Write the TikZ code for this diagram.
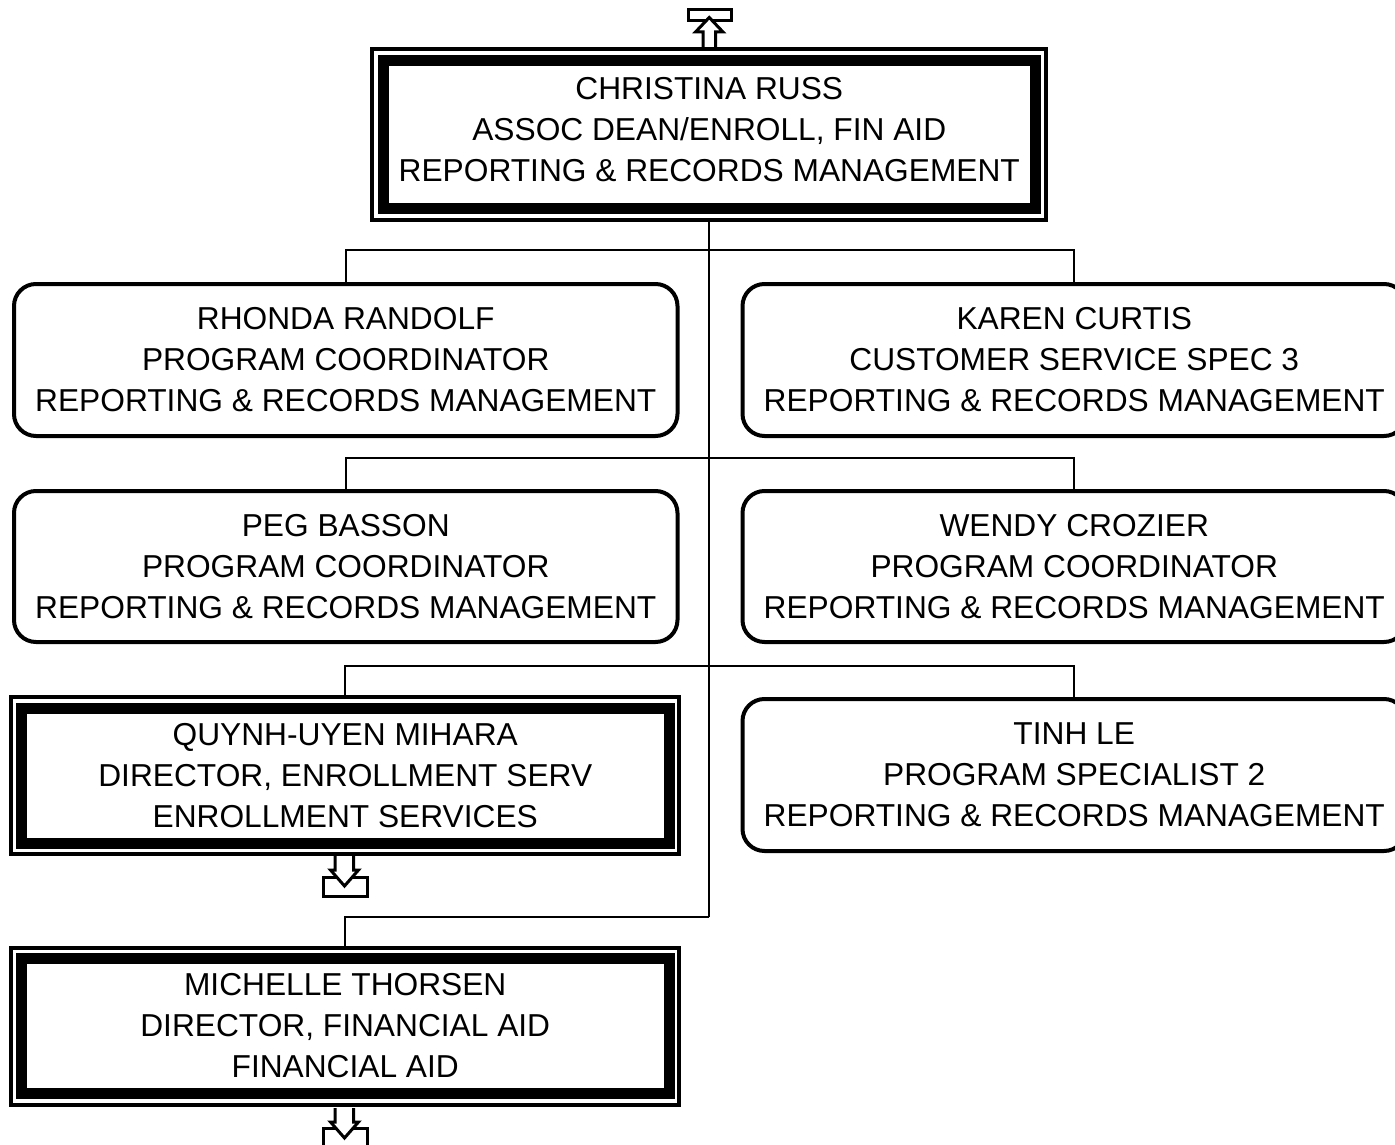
\documentclass[tikz,border=0pt]{standalone}
\usepackage{fontspec}
\setmainfont{Liberation Sans}
\begin{document}
\begin{tikzpicture}[x=1pt,y=-1pt,
  txt/.style={align=center,font=\fontsize{31.7}{41}\selectfont,inner sep=0pt},
  rbox/.style={draw,line width=4pt,rounded corners=22pt,minimum width=663.5pt,minimum height=152pt,
    align=center,font=\fontsize{31.7}{41}\selectfont,inner sep=0pt,outer sep=0pt,fill=white},
  tbox/.style={draw,line width=11pt,minimum width=647.5pt,minimum height=135pt,
    align=center,font=\fontsize{31.7}{41}\selectfont,inner sep=0pt,outer sep=0pt,fill=white},
  outerln/.style={draw,line width=4pt},
  conn/.style={draw,line width=2pt},
  icon/.style={draw,line width=3pt,fill=white,line join=miter}
]
\useasboundingbox (0,0) rectangle (1395,1145);

% coordinates for connector bends
\coordinate (b1) at (709.25,250);
\coordinate (b2) at (709.25,458);
\coordinate (b3) at (709.25,666);
\coordinate (j4) at (709.25,917);

% top box
\node[tbox,minimum width=651.5pt,minimum height=148pt] (top) at (709.25,134.5) {};

% rows
\node[rbox] (r1l) at (345.75,360) {RHONDA RANDOLF\\PROGRAM COORDINATOR\\REPORTING \& RECORDS MANAGEMENT};
\node[rbox] (r1r) at (1074.25,360) {KAREN CURTIS\\CUSTOMER SERVICE SPEC 3\\REPORTING \& RECORDS MANAGEMENT};
\node[rbox,minimum height=151pt] (r2l) at (345.75,566.5) {PEG BASSON\\PROGRAM COORDINATOR\\REPORTING \& RECORDS MANAGEMENT};
\node[rbox,minimum height=151pt] (r2r) at (1074.25,566.5) {WENDY CROZIER\\PROGRAM COORDINATOR\\REPORTING \& RECORDS MANAGEMENT};
\node[tbox] (r3l) at (345.25,775.5) {QUYNH-UYEN MIHARA\\DIRECTOR, ENROLLMENT SERV\\ENROLLMENT SERVICES};
\node[rbox] (r3r) at (1074.25,775) {TINH LE\\PROGRAM SPECIALIST 2\\REPORTING \& RECORDS MANAGEMENT};
\node[tbox,minimum height=134.5pt] (r4) at (345.25,1025.75) {MICHELLE THORSEN\\DIRECTOR, FINANCIAL AID\\FINANCIAL AID};

% outer thin frames of the double boxes
\draw[outerln] ([shift={(-11.25,-11.25)}]top.north west) rectangle ([shift={(11.25,11)}]top.south east);
\draw[outerln] ([shift={(-11,-11.5)}]r3l.north west) rectangle ([shift={(10,10.5)}]r3l.south east);
\draw[outerln] ([shift={(-10.5,-10.5)}]r4.north west) rectangle ([shift={(10,11.5)}]r4.south east);

% top box text
\node[txt] (toptxt) at (709.25,129.5) {CHRISTINA RUSS\\ASSOC DEAN/ENROLL, FIN AID\\REPORTING \& RECORDS MANAGEMENT};

% connectors
\draw[conn] ([yshift=-13pt]top.south) -- (j4);
\draw[conn] (r1l.north) |- (b1) -| (r1r.north);
\draw[conn] (r2l.north) |- (b2) -| (r2r.north);
\draw[conn] ([yshift=13.5pt]r3l.north) |- (b3) -| (r3r.north);
\draw[conn] (j4) -| ([yshift=12.5pt]r4.north);

% up arrow icon above top box
\draw[icon] (688,9.5) rectangle (731.5,21);
\draw[icon] (703,47) -- (703,32) -- (695.5,32) -- (709.25,17.5) -- (723,32) -- (715.5,32) -- (715.5,47);

% down arrow icons below the director boxes
\draw[icon] (323,877.5) rectangle (367.5,896);
\draw[icon] (335,856) -- (335,870) -- (330.5,870) -- (344.5,886) -- (358.5,870) -- (353.5,870) -- (353.5,856);

\draw[icon] (323,1128) rectangle (367.5,1150);
\draw[icon] (335,1108) -- (335,1122) -- (330.5,1122) -- (344.5,1138) -- (358.5,1122) -- (353.5,1122) -- (353.5,1108);
\end{tikzpicture}
\end{document}
